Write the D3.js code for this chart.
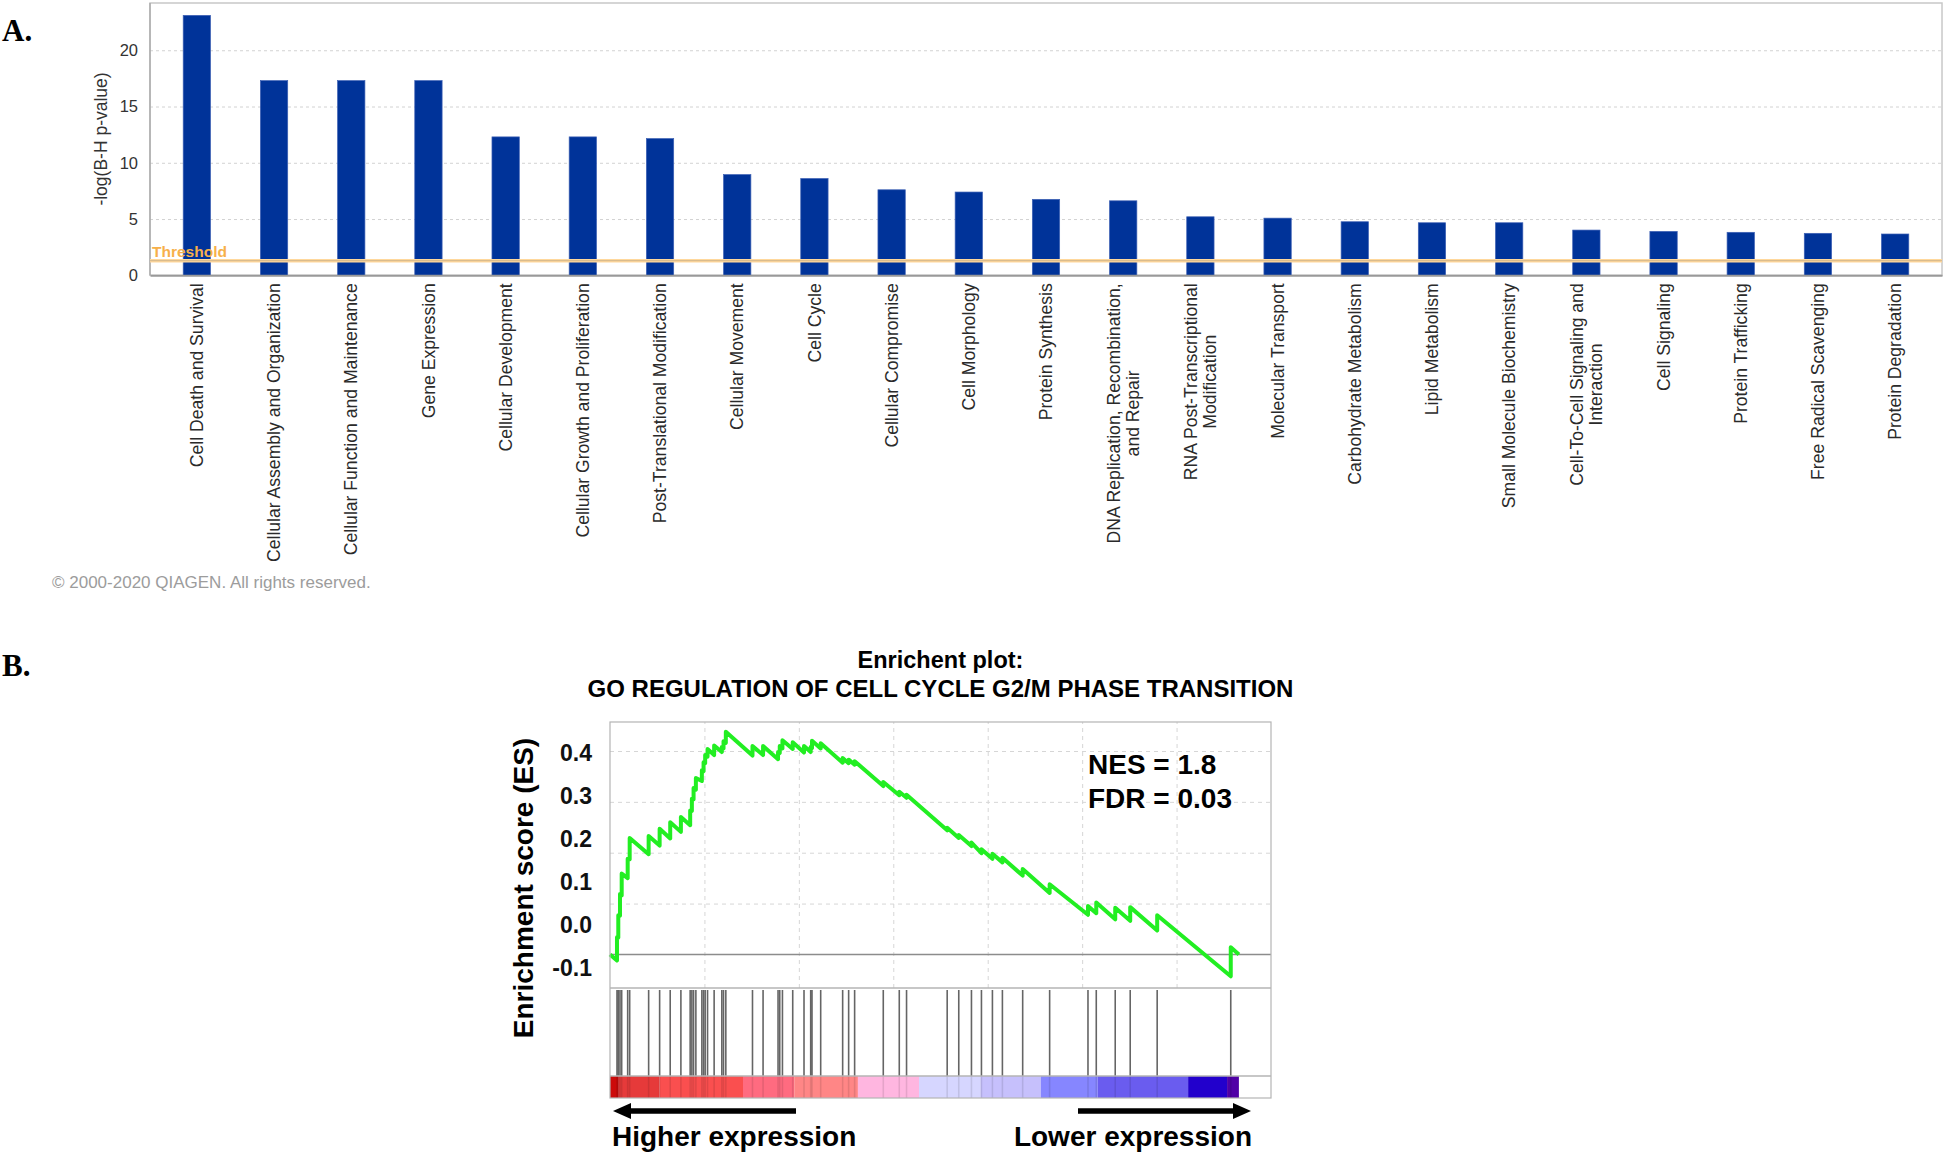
<!DOCTYPE html>
<html>
<head>
<meta charset="utf-8">
<script src="https://cdn.jsdelivr.net/npm/d3@7"></script>
<style>
  body { margin: 0; background: #fff; }
  svg { display: block; }
</style>
</head>
<body>
<div id="charts"></div>
<script>
// Panel A: IPA molecular and cellular functions
var categories = [
  'Cell Death and Survival',
  'Cellular Assembly and Organization',
  'Cellular Function and Maintenance',
  'Gene Expression',
  'Cellular Development',
  'Cellular Growth and Proliferation',
  'Post-Translational Modification',
  'Cellular Movement',
  'Cell Cycle',
  'Cellular Compromise',
  'Cell Morphology',
  'Protein Synthesis',
  'DNA Replication, Recombination,\nand Repair',
  'RNA Post-Transcriptional\nModification',
  'Molecular Transport',
  'Carbohydrate Metabolism',
  'Lipid Metabolism',
  'Small Molecule Biochemistry',
  'Cell-To-Cell Signaling and\nInteraction',
  'Cell Signaling',
  'Protein Trafficking',
  'Free Radical Scavenging',
  'Protein Degradation'
];
var logPValues = [23.1, 17.3, 17.3, 17.3, 12.3, 12.3, 12.15, 8.95, 8.6, 7.6, 7.4,
  6.75, 6.62, 5.2, 5.08, 4.76, 4.67, 4.67, 4.02, 3.9, 3.82, 3.73, 3.67];
var threshold = 1.3;
var barTicks = [0, 5, 10, 15, 20];

// Panel B: GSEA running enrichment score
var totalGenes = 33300;
var hitRanks = [370, 439, 529, 619, 936, 1042, 2046, 2628, 3188, 3754,
  4245, 4335, 4425, 4547, 4864, 4954, 5039, 5165, 5514, 5921,
  6011, 6133, 7545, 8105, 8898, 8988, 9131, 9675, 10273, 10627,
  10696, 11156, 12319, 12636, 12953, 14470, 15317, 15702, 17854, 18467,
  19139, 19668, 20249, 20778, 21851, 23279, 25309, 25748, 26752, 27545,
  28973, 32869];
// ES value just before and just after the step at each hit
var esBeforeHit = [-0.012, 0.033, 0.076, 0.116, 0.150, 0.187, 0.197, 0.214, 0.228, 0.241,
  0.254, 0.282, 0.305, 0.324, 0.341, 0.360, 0.376, 0.389, 0.392, 0.398,
  0.405, 0.416, 0.391, 0.392, 0.384, 0.396, 0.405, 0.404, 0.397, 0.398,
  0.406, 0.405, 0.377, 0.376, 0.373, 0.331, 0.313, 0.308, 0.244, 0.229,
  0.213, 0.199, 0.188, 0.181, 0.155, 0.121, 0.078, 0.081, 0.069, 0.066,
  0.047, -0.043];
var esAfterHit = [0.034, 0.077, 0.119, 0.159, 0.188, 0.229, 0.233, 0.247, 0.260, 0.270,
  0.283, 0.306, 0.327, 0.347, 0.362, 0.378, 0.392, 0.404, 0.411, 0.408,
  0.419, 0.438, 0.410, 0.410, 0.398, 0.410, 0.421, 0.417, 0.410, 0.408,
  0.420, 0.415, 0.386, 0.383, 0.380, 0.339, 0.320, 0.314, 0.249, 0.235,
  0.220, 0.207, 0.198, 0.190, 0.168, 0.138, 0.095, 0.102, 0.092, 0.093,
  0.077, 0.014];
var esTicks = [-0.1, 0, 0.1, 0.2, 0.3, 0.4];
var esGrid = [0.1, 0.2, 0.3, 0.4];
var rankGrid = [5000, 10000, 15000, 20000, 25000, 30000];
var rankBarStarts = [0, 465, 2622, 7042, 9755, 13127, 16363, 19615, 22813, 25827, 30612, 32674];
var rankBarColors = ['#cc0a0a', '#e63a3a', '#fa4f4f', '#ff6b80', '#ff8686', '#ffb6e0',
  '#d6d6ff', '#c6c0fc', '#8686ff', '#6a5cef', '#2200cc', '#5000a6'];

var svg;
var sansFont = "'Liberation Sans', Arial, sans-serif";
var serifFont = "'Liberation Serif', 'Times New Roman', serif";

function initialize() {
  svg = d3.select('div#charts')
    .append('svg')
    .attr('width', 1946)
    .attr('height', 1155)
    .style('background', '#fff');
  drawBarChart();
  drawEnrichmentPlot();
}

function drawBarChart() {
  var frame = {left: 150, right: 1942, top: 3, bottom: 275.3};

  var x = d3.scaleBand()
    .domain(categories)
    .range([frame.left, frame.right])
    .paddingInner(0.646)
    .paddingOuter(0.43);
  var y = d3.scaleLinear()
    .domain([0, 24.2])
    .range([frame.bottom, frame.top]);

  svg.append('text')
    .attr('x', 2).attr('y', 41)
    .attr('font-family', serifFont)
    .attr('font-weight', 'bold')
    .attr('font-size', 31)
    .text('A.');

  // dotted horizontal grid
  svg.append('g')
    .attr('transform', 'translate(' + frame.left + ',0)')
    .call(d3.axisLeft(y).tickValues(barTicks.slice(1))
      .tickSize(-(frame.right - frame.left)).tickFormat(''))
    .call(function(g) { g.select('.domain').remove(); })
    .selectAll('line')
    .attr('stroke', '#d2d2d2')
    .attr('stroke-dasharray', '3,3');

  svg.append('rect')
    .attr('x', frame.left).attr('y', frame.top)
    .attr('width', frame.right - frame.left)
    .attr('height', frame.bottom - frame.top)
    .attr('fill', 'none')
    .attr('stroke', '#c8c8c8')
    .attr('stroke-width', 1.5);
  svg.append('line')
    .attr('x1', frame.left).attr('x2', frame.left)
    .attr('y1', frame.top).attr('y2', frame.bottom)
    .attr('stroke', '#999');

  svg.selectAll('rect.bar')
    .data(logPValues)
    .enter()
    .append('rect')
    .classed('bar', true)
    .attr('x', function(d, i) { return x(categories[i]); })
    .attr('y', function(d) { return y(d); })
    .attr('width', x.bandwidth())
    .attr('height', function(d) { return y(0) - y(d); })
    .attr('fill', '#003399')
    .attr('stroke', '#3d60b4')
    .attr('stroke-width', 0.7);

  // threshold line
  svg.append('line')
    .attr('x1', frame.left).attr('x2', frame.right)
    .attr('y1', y(threshold)).attr('y2', y(threshold))
    .attr('stroke', '#ffd89c')
    .attr('stroke-width', 3.5);
  svg.append('line')
    .attr('x1', frame.left).attr('x2', frame.right)
    .attr('y1', y(threshold)).attr('y2', y(threshold))
    .attr('stroke', '#8a8070')
    .attr('stroke-opacity', 0.55)
    .attr('stroke-width', 0.7);
  svg.append('text')
    .attr('x', frame.left + 2)
    .attr('y', y(threshold) - 4)
    .attr('font-family', sansFont)
    .attr('font-weight', 'bold')
    .attr('font-size', 15.5)
    .attr('fill', '#f7b04a')
    .text('Threshold');

  // y axis
  var yAxis = svg.append('g')
    .attr('transform', 'translate(' + frame.left + ',0)')
    .call(d3.axisLeft(y).tickValues(barTicks).tickSize(0).tickPadding(12));
  yAxis.select('.domain').remove();
  yAxis.selectAll('text')
    .attr('font-family', sansFont)
    .attr('font-size', 16.5)
    .attr('fill', '#333');

  svg.append('text')
    .attr('transform', 'translate(107,139) rotate(-90)')
    .attr('text-anchor', 'middle')
    .attr('font-family', sansFont)
    .attr('font-size', 17.5)
    .attr('fill', '#333')
    .text('-log(B-H p-value)');

  // x axis with rotated, possibly two-line labels
  var xAxis = svg.append('g')
    .attr('transform', 'translate(0,' + frame.bottom + ')')
    .call(d3.axisBottom(x).tickSize(0).tickSizeOuter(0));
  xAxis.select('.domain')
    .attr('stroke', '#999')
    .attr('stroke-width', 2);

  xAxis.selectAll('.tick text').each(function(d) {
    var label = d3.select(this);
    var lines = d.split('\n');
    label.text(null)
      .attr('transform', 'rotate(-90)')
      .attr('font-family', sansFont)
      .attr('font-size', 17.6)
      .attr('fill', '#2a2a2a')
      .attr('y', 0)
      .attr('dy', null);
    var spans = lines.map(function(line, i) {
      return label.append('tspan')
        .attr('text-anchor', 'end')
        .attr('x', -8)
        .attr('y', (i - (lines.length - 1) / 2) * 19.5)
        .attr('dy', '0.35em')
        .text(line);
    });
    if (lines.length > 1) {
      var longest = d3.max(spans, function(s) { return s.node().getComputedTextLength(); });
      spans.forEach(function(s) {
        s.attr('text-anchor', 'middle').attr('x', -8 - longest / 2);
      });
    }
  });

  svg.append('text')
    .attr('x', 52).attr('y', 588)
    .attr('font-family', sansFont)
    .attr('font-size', 17)
    .attr('fill', '#9c9c9c')
    .text('\u00a9 2000-2020 QIAGEN. All rights reserved.');
}

function drawEnrichmentPlot() {
  var frame = {left: 610, right: 1271, top: 722, esBottom: 988, hitBottom: 1076, bottom: 1098};

  var x = d3.scaleLinear().domain([0, 35000]).range([frame.left, frame.right]);
  var y = d3.scaleLinear().domain([-0.066, 0.457]).range([frame.esBottom, frame.top]);
  // the printed tick labels were pasted on by hand and do not sit on the
  // gridlines, so they get their own scale
  var labelY = d3.scaleLinear().domain([-0.1, 0.4]).range([968, 753]);

  svg.append('text')
    .attr('x', 2).attr('y', 676)
    .attr('font-family', serifFont)
    .attr('font-weight', 'bold')
    .attr('font-size', 31)
    .text('B.');

  var cx = (frame.left + frame.right) / 2;
  svg.append('text')
    .attr('x', cx).attr('y', 668)
    .attr('text-anchor', 'middle')
    .attr('font-family', sansFont)
    .attr('font-weight', 'bold')
    .attr('font-size', 23.5)
    .text('Enrichent plot:');
  svg.append('text')
    .attr('x', cx).attr('y', 697)
    .attr('text-anchor', 'middle')
    .attr('font-family', sansFont)
    .attr('font-weight', 'bold')
    .attr('font-size', 24)
    .text('GO REGULATION OF CELL CYCLE G2/M PHASE TRANSITION');

  // grid
  svg.append('g')
    .attr('transform', 'translate(0,' + frame.esBottom + ')')
    .call(d3.axisBottom(x).tickValues(rankGrid)
      .tickSize(-(frame.esBottom - frame.top)).tickFormat(''))
    .call(function(g) { g.select('.domain').remove(); })
    .selectAll('line')
    .attr('stroke', '#d6d6d6')
    .attr('stroke-dasharray', '4,4');
  svg.append('g')
    .attr('transform', 'translate(' + frame.left + ',0)')
    .call(d3.axisLeft(y).tickValues(esGrid)
      .tickSize(-(frame.right - frame.left)).tickFormat(''))
    .call(function(g) { g.select('.domain').remove(); })
    .selectAll('line')
    .attr('stroke', '#d6d6d6')
    .attr('stroke-dasharray', '4,4');

  svg.append('line')
    .attr('x1', frame.left).attr('x2', frame.right)
    .attr('y1', y(0)).attr('y2', y(0))
    .attr('stroke', '#8c8c8c')
    .attr('stroke-width', 1.6);

  // running enrichment score
  var points = [[0, 0]];
  hitRanks.forEach(function(r, i) {
    points.push([r, esBeforeHit[i]]);
    points.push([r, esAfterHit[i]]);
  });
  points.push([totalGenes, 0]);

  svg.append('path')
    .datum(points)
    .attr('fill', 'none')
    .attr('stroke', '#22ee22')
    .attr('stroke-width', 4)
    .attr('stroke-linejoin', 'round')
    .attr('d', d3.line()
      .x(function(d) { return x(d[0]); })
      .y(function(d) { return y(d[1]); }));

  // ranked list colour bar
  svg.selectAll('rect.rankbar')
    .data(rankBarStarts)
    .enter()
    .append('rect')
    .classed('rankbar', true)
    .attr('x', function(d) { return x(d); })
    .attr('width', function(d, i) {
      var end = i + 1 < rankBarStarts.length ? rankBarStarts[i + 1] : totalGenes;
      return x(end) - x(d);
    })
    .attr('y', frame.hitBottom)
    .attr('height', frame.bottom - frame.hitBottom)
    .attr('fill', function(d, i) { return rankBarColors[i]; });

  // hits
  svg.selectAll('line.hit')
    .data(hitRanks)
    .enter()
    .append('line')
    .classed('hit', true)
    .attr('x1', function(d) { return x(d); })
    .attr('x2', function(d) { return x(d); })
    .attr('y1', frame.esBottom + 2)
    .attr('y2', frame.hitBottom)
    .attr('stroke', '#4a4a4a')
    .attr('stroke-opacity', 0.85)
    .attr('stroke-width', 1.6);
  svg.selectAll('line.hitshade')
    .data(hitRanks)
    .enter()
    .append('line')
    .classed('hitshade', true)
    .attr('x1', function(d) { return x(d); })
    .attr('x2', function(d) { return x(d); })
    .attr('y1', frame.hitBottom)
    .attr('y2', frame.bottom)
    .attr('stroke', '#000')
    .attr('stroke-opacity', 0.1)
    .attr('stroke-width', 1.6);

  // panel frames
  svg.append('rect')
    .attr('x', frame.left).attr('y', frame.top)
    .attr('width', frame.right - frame.left)
    .attr('height', frame.bottom - frame.top)
    .attr('fill', 'none')
    .attr('stroke', '#b4b4b4')
    .attr('stroke-width', 1.2);
  [frame.esBottom, frame.hitBottom].forEach(function(yy) {
    svg.append('line')
      .attr('x1', frame.left).attr('x2', frame.right)
      .attr('y1', yy).attr('y2', yy)
      .attr('stroke', '#b4b4b4')
      .attr('stroke-width', 1.5);
  });

  // tick labels
  var labelAxis = svg.append('g')
    .attr('transform', 'translate(600,0)')
    .call(d3.axisLeft(labelY).tickValues(esTicks)
      .tickFormat(function(d) { return d.toFixed(1); })
      .tickSize(0).tickPadding(8));
  labelAxis.select('.domain').remove();
  labelAxis.selectAll('text')
    .attr('font-family', sansFont)
    .attr('font-weight', 'bold')
    .attr('font-size', 23)
    .attr('fill', '#111');

  svg.append('text')
    .attr('transform', 'translate(533,888) rotate(-90)')
    .attr('text-anchor', 'middle')
    .attr('font-family', sansFont)
    .attr('font-weight', 'bold')
    .attr('font-size', 28)
    .text('Enrichment score (ES)');

  svg.append('text')
    .attr('x', 1088).attr('y', 774)
    .attr('font-family', sansFont)
    .attr('font-weight', 'bold')
    .attr('font-size', 28)
    .text('NES = 1.8');
  svg.append('text')
    .attr('x', 1088).attr('y', 808)
    .attr('font-family', sansFont)
    .attr('font-weight', 'bold')
    .attr('font-size', 28)
    .text('FDR = 0.03');

  // direction arrows
  var arrowY = 1111;
  drawArrow(frame.left + 3, frame.left + 186, arrowY, 'left');
  drawArrow(frame.right - 193, frame.right - 20, arrowY, 'right');

  svg.append('text')
    .attr('x', 612).attr('y', 1146)
    .attr('font-family', sansFont)
    .attr('font-weight', 'bold')
    .attr('font-size', 28)
    .text('Higher expression');
  svg.append('text')
    .attr('x', 1252).attr('y', 1146)
    .attr('text-anchor', 'end')
    .attr('font-family', sansFont)
    .attr('font-weight', 'bold')
    .attr('font-size', 28)
    .text('Lower expression');
}

function drawArrow(x0, x1, yy, side) {
  var head = 18, half = 8, thick = 5.5;
  var tip = side === 'left' ? x0 : x1;
  var dir = side === 'left' ? 1 : -1;
  svg.append('rect')
    .attr('x', side === 'left' ? x0 + head - 1 : x0)
    .attr('y', yy - thick / 2)
    .attr('width', x1 - x0 - head + 1)
    .attr('height', thick)
    .attr('fill', '#000');
  svg.append('path')
    .attr('d', 'M' + tip + ',' + yy +
      'L' + (tip + dir * head) + ',' + (yy - half) +
      'L' + (tip + dir * head) + ',' + (yy + half) + 'Z')
    .attr('fill', '#000');
}

initialize();
</script>
</body>
</html>
